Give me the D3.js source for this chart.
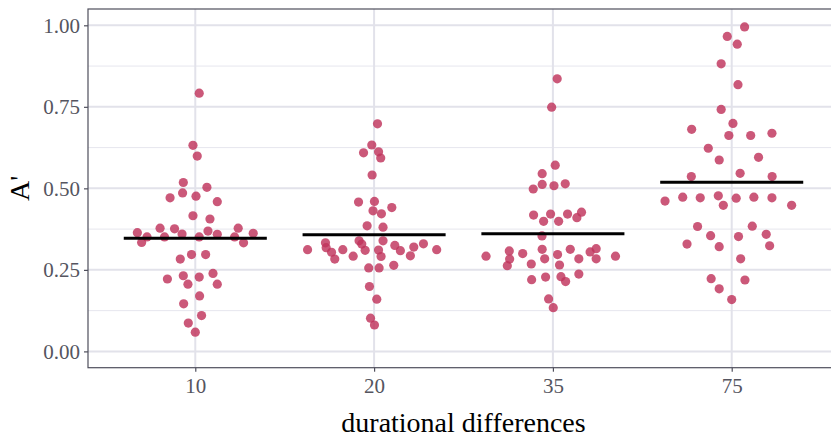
<!DOCTYPE html>
<html>
<head>
<meta charset="utf-8">
<script src="https://cdn.jsdelivr.net/npm/d3@7"></script>
<style>
  body { margin: 0; background: #fff; }
  svg { display: block; font-family: "Liberation Serif", "DejaVu Serif", serif; }
</style>
</head>
<body>
<svg id="chart" width="831" height="438"></svg>
<script>
// categories on the x axis
const groups = ["10", "20", "35", "75"];

// A' values per group, with the swarm offset (in category widths) of each point
const a10 = [0.792, 0.632, 0.599, 0.518, 0.503, 0.471, 0.486, 0.476, 0.459, 0.416, 0.406, 0.378, 0.376, 0.378,
  0.364, 0.362, 0.369, 0.360, 0.359, 0.351, 0.351, 0.351, 0.351, 0.334, 0.333, 0.283, 0.297, 0.297, 0.222,
  0.232, 0.228, 0.239, 0.206, 0.206, 0.170, 0.146, 0.110, 0.087, 0.059];
const off10 = [0.022, -0.013, 0.011, -0.067, 0.065, -0.141, -0.071, 0.004, 0.123, -0.013, 0.082, -0.197, -0.116, 0.240,
  -0.324, 0.324, 0.071, -0.074, 0.123, -0.270, -0.172, 0.022, 0.220, -0.300, 0.270, -0.084, -0.021, 0.058, -0.156,
  -0.067, 0.022, 0.099, -0.041, 0.123, 0.024, -0.065, 0.035, -0.039, 0.000];

const a20 = [0.698, 0.633, 0.609, 0.612, 0.593, 0.541, 0.458, 0.460, 0.441, 0.431, 0.422, 0.385, 0.381, 0.339,
  0.339, 0.333, 0.329, 0.325, 0.330, 0.312, 0.318, 0.312, 0.310, 0.311, 0.309, 0.320, 0.312, 0.304, 0.292,
  0.291, 0.293, 0.283, 0.256, 0.256, 0.264, 0.199, 0.160, 0.102, 0.081];
const off20 = [0.019, -0.013, -0.059, 0.025, 0.037, -0.011, -0.087, 0.002, 0.099, -0.006, 0.041, -0.039, 0.050, -0.084,
  0.050, -0.272, -0.069, 0.116, 0.276, -0.372, -0.268, -0.175, -0.050, 0.025, 0.147, 0.222, 0.350, -0.238, -0.117,
  0.039, 0.203, -0.220, -0.030, 0.028, 0.110, -0.026, 0.015, -0.020, 0.002];

const a35 = [0.836, 0.749, 0.571, 0.545, 0.498, 0.512, 0.508, 0.514, 0.418, 0.421, 0.421, 0.427, 0.410, 0.399,
  0.399, 0.354, 0.308, 0.300, 0.313, 0.313, 0.305, 0.315, 0.292, 0.283, 0.284, 0.297, 0.284, 0.284, 0.292,
  0.263, 0.268, 0.265, 0.220, 0.228, 0.229, 0.214, 0.237, 0.161, 0.134];
const off35 = [0.024, -0.007, 0.013, -0.060, -0.110, -0.060, 0.006, 0.069, -0.108, -0.013, 0.082, 0.160, 0.134, -0.052,
  0.032, -0.061, -0.244, -0.169, -0.060, 0.097, 0.208, 0.242, -0.374, -0.242, -0.046, 0.026, 0.145, 0.242, 0.350,
  -0.255, -0.121, 0.037, -0.119, -0.041, 0.045, 0.071, 0.145, -0.024, 0.002];

const a75 = [0.995, 0.966, 0.942, 0.882, 0.818, 0.742, 0.699, 0.681, 0.662, 0.662, 0.669, 0.623, 0.587, 0.595,
  0.536, 0.546, 0.536, 0.461, 0.473, 0.471, 0.477, 0.470, 0.473, 0.471, 0.448, 0.448, 0.383, 0.384, 0.355,
  0.352, 0.359, 0.329, 0.321, 0.324, 0.284, 0.223, 0.219, 0.192, 0.159];
const off75 = [0.072, -0.025, 0.031, -0.059, 0.035, -0.059, 0.007, -0.224, -0.016, 0.106, 0.225, -0.131, -0.070, 0.150,
  -0.226, 0.047, 0.226, -0.373, -0.274, -0.176, -0.075, 0.025, 0.124, 0.225, -0.047, 0.335, -0.191, 0.115, -0.118,
  0.038, 0.193, -0.250, -0.070, 0.212, 0.050, -0.115, 0.074, -0.070, 0.000];

// group means (horizontal bars)
const means = [0.347, 0.358, 0.361, 0.5185];

const yTicks = [0, 0.25, 0.5, 0.75, 1];
const yMinor = [0.125, 0.375, 0.625, 0.875];

const values = [a10, a20, a35, a75];
const offsets = [off10, off20, off35, off75];
const points = [];
groups.forEach((g, i) => {
  values[i].forEach((v, j) => points.push({ group: g, value: v, offset: offsets[i][j] }));
});

const svg = d3.select("#chart");
const margin = { top: 9, right: -8, bottom: 70, left: 88 };
const width = +svg.attr("width");
const height = +svg.attr("height");
const pLeft = margin.left, pRight = width - margin.right;
const pTop = margin.top, pBottom = 367.7;

// discrete x: 0.6 expansion at each end, like ggplot
const x = d3.scaleLinear().domain([0.4, 4.6]).range([pLeft, pRight]);
const xpos = g => x(groups.indexOf(g) + 1);

const y = d3.scaleLinear().domain([-0.05, 1.05]).range([pBottom, pTop]);

const plot = svg.append("g");

svg.append("defs").append("clipPath").attr("id", "panel")
  .append("rect").attr("x", pLeft).attr("y", pTop).attr("width", pRight - pLeft).attr("height", pBottom - pTop);

// grid
const grid = plot.append("g").attr("clip-path", "url(#panel)");
grid.selectAll(".minor").data(yMinor).join("line")
  .attr("x1", pLeft).attr("x2", pRight)
  .attr("y1", d => y(d)).attr("y2", d => y(d))
  .attr("stroke", "#e6e6ee").attr("stroke-width", 1);
grid.selectAll(".major").data(yTicks).join("line")
  .attr("x1", pLeft).attr("x2", pRight)
  .attr("y1", d => y(d)).attr("y2", d => y(d))
  .attr("stroke", "#e2e2ea").attr("stroke-width", 2);
grid.selectAll(".vmajor").data(groups).join("line")
  .attr("x1", d => xpos(d)).attr("x2", d => xpos(d))
  .attr("y1", pTop).attr("y2", pBottom)
  .attr("stroke", "#e2e2ea").attr("stroke-width", 2);

// points
plot.append("g").attr("clip-path", "url(#panel)")
  .selectAll("circle").data(points).join("circle")
  .attr("cx", d => xpos(d.group) + d.offset * (x(2) - x(1)))
  .attr("cy", d => y(d.value))
  .attr("r", 4.6)
  .attr("fill", "#c0335c")
  .attr("fill-opacity", 0.82);

// mean bars
plot.append("g").selectAll("line").data(groups).join("line")
  .attr("x1", (d, i) => x(i + 1 - 0.4))
  .attr("x2", (d, i) => x(i + 1 + 0.4))
  .attr("y1", (d, i) => y(means[i]))
  .attr("y2", (d, i) => y(means[i]))
  .attr("stroke", "#000").attr("stroke-width", 3);

// panel border
svg.append("rect")
  .attr("x", pLeft).attr("y", pTop)
  .attr("width", pRight - pLeft).attr("height", pBottom - pTop)
  .attr("fill", "none").attr("stroke", "#4f4f5c").attr("stroke-width", 1.2);

// axes
const yAxis = svg.append("g")
  .attr("transform", `translate(${pLeft},0)`)
  .call(d3.axisLeft(y).tickValues(yTicks).tickFormat(d3.format(".2f")).tickSize(4).tickPadding(4));
const xAxis = svg.append("g")
  .attr("transform", `translate(0,${pBottom})`)
  .call(d3.axisBottom(x).tickValues([1, 2, 3, 4]).tickFormat(d => groups[d - 1]).tickSize(4).tickPadding(6));

[yAxis, xAxis].forEach(a => {
  a.select(".domain").remove();
  a.selectAll(".tick line").attr("stroke", "#4f4f5c").attr("stroke-width", 1.2);
  a.selectAll(".tick text")
    .attr("fill", "#555560")
    .style("font-family", "Liberation Serif, serif")
    .style("font-size", "21px");
});

// axis titles
svg.append("text")
  .attr("x", (pLeft + pRight) / 2)
  .attr("y", 432)
  .attr("text-anchor", "middle")
  .attr("fill", "#000")
  .style("font-size", "28px")
  .text("durational differences");

svg.append("text")
  .attr("transform", `translate(29,${(pTop + pBottom) / 2}) rotate(-90)`)
  .attr("text-anchor", "middle")
  .attr("fill", "#000")
  .style("font-size", "28px")
  .text("A'");
</script>
</body>
</html>
